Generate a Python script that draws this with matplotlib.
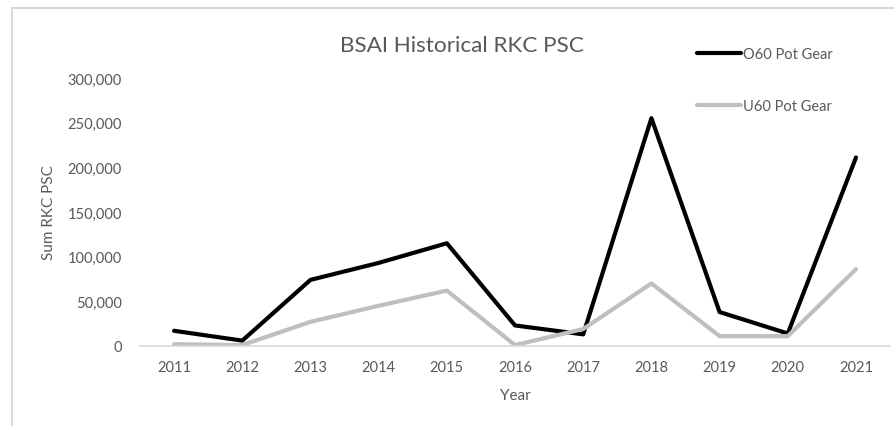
import matplotlib.pyplot as plt
from matplotlib.ticker import FuncFormatter
from matplotlib.patches import Rectangle

years = [2011, 2012, 2013, 2014, 2015, 2016, 2017, 2018, 2019, 2020, 2021]
o60_pot = [17000, 6000, 74000, 93000, 115000, 23000, 13000, 255000, 38000, 14000, 211000]
u60_pot = [2000, 1000, 27000, 45000, 62000, 1000, 19000, 70000, 11000, 11000, 86000]

plt.rcParams['font.family'] = ['Lato', 'DejaVu Sans']
txt = '#595959'

fig = plt.figure(figsize=(8.94, 4.27), dpi=100)
ax = fig.add_axes([0.1566, 0.1874, 0.839, 0.6276])

ax.plot(years, o60_pot, color='black', lw=3, label='O60 Pot Gear', solid_capstyle='round')
ax.plot(years, u60_pot, color='#bfbfbf', lw=3, label='U60 Pot Gear', solid_capstyle='round')

ax.set_xlim(2010.5, 2021.5)
ax.set_ylim(0, 300000)
ax.set_xticks(years)
ax.set_yticks(range(0, 300001, 50000))
ax.yaxis.set_major_formatter(FuncFormatter(lambda v, p: '{:,.0f}'.format(v)))
ax.tick_params(length=0, labelsize=10.5, colors=txt)
ax.tick_params(axis='y', pad=13)
ax.tick_params(axis='x', pad=10)
for s in ['top', 'right', 'left']:
    ax.spines[s].set_visible(False)
ax.spines['bottom'].set_color('#d9d9d9')
ax.spines['bottom'].set_linewidth(1.2)

ax.set_xlabel('Year', fontsize=11, color=txt, labelpad=10)
ax.set_ylabel('Sum RKC PSC', fontsize=11, color=txt, labelpad=8)
fig.text(0.517, 0.893, 'BSAI Historical RKC PSC', ha='center', va='center',
         fontsize=16.2, color=txt)

leg = fig.legend(loc='upper left', bbox_to_anchor=(0.772, 0.905), frameon=False,
                 fontsize=10.5, labelspacing=2.6, handlelength=3.0, handletextpad=0.1,
                 borderpad=0)
for t in leg.get_texts():
    t.set_color(txt)

fig.patches.append(Rectangle((12 / 894, -0.1), 1.0, (427 - 9) / 427 + 0.1,
                             transform=fig.transFigure, fill=False,
                             edgecolor='#d9d9d9', lw=1.5))

fig.savefig('out.png', dpi=100)
